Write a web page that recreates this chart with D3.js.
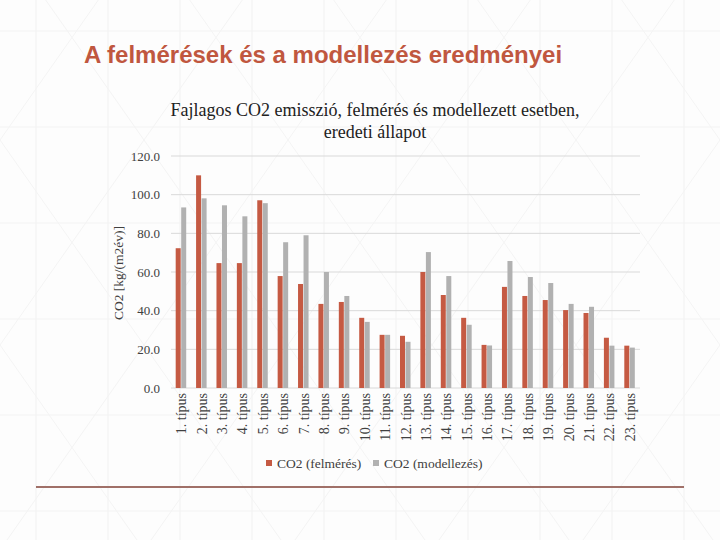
<!DOCTYPE html>
<html>
<head>
<meta charset="utf-8">
<script src="https://cdn.jsdelivr.net/npm/d3@7"></script>
<style>
  body { margin: 0; background: #fff; }
  svg { display: block; }
</style>
</head>
<body>
<script>
// chart data
var categories = ["1. típus","2. típus","3. típus","4. típus","5. típus","6. típus","7. típus","8. típus",
  "9. típus","10. típus","11. típus","12. típus","13. típus","14. típus","15. típus","16. típus",
  "17. típus","18. típus","19. típus","20. típus","21. típus","22. típus","23. típus"];
var felmeres = [72.3,110.0,64.6,64.6,97.1,57.9,53.8,43.5,44.5,36.3,27.5,27.0,60.0,48.1,36.3,22.3,52.3,47.6,45.5,40.3,38.8,26.0,21.9];
var modellezes = [93.4,98.1,94.5,88.8,95.6,75.4,79.0,60.0,47.6,34.2,27.5,23.9,70.3,57.9,32.7,22.0,65.7,57.4,54.3,43.5,42.0,21.9,20.9];
var seriesNames = ["CO2 (felmérés)", "CO2 (modellezés)"];
var yTicks = [0, 20, 40, 60, 80, 100, 120];

var W = 720, H = 540;
var red = "#c55a43", gray = "#b1b1b1";

var svg = d3.select("body").append("svg")
  .attr("width", W).attr("height", H);

// faint background pattern
var bg = svg.append("g");
bg.append("rect").attr("width", W).attr("height", H).attr("fill", "#fdfdfd");
for (var vx = 36; vx < W; vx += 72) {
  bg.append("line").attr("x1", vx).attr("x2", vx).attr("y1", 0).attr("y2", H)
    .attr("stroke", "#f1f1f1").attr("stroke-width", 1);
}
for (var hy = 31; hy < H; hy += 96) {
  bg.append("line").attr("x1", 0).attr("x2", W).attr("y1", hy).attr("y2", hy)
    .attr("stroke", "#f3f3f3").attr("stroke-width", 1);
}
for (var dx = -720; dx < W + 720; dx += 144) {
  bg.append("line").attr("x1", dx).attr("y1", -65).attr("x2", dx + 432).attr("y2", H + 10)
    .attr("stroke", "#f4f4f4");
  bg.append("line").attr("x1", dx).attr("y1", -65).attr("x2", dx - 432).attr("y2", H + 10)
    .attr("stroke", "#f4f4f4");
}

// slide title
svg.append("text")
  .attr("x", 84).attr("y", 63)
  .attr("font-family", "Liberation Sans, Arial, sans-serif")
  .attr("font-weight", "bold")
  .attr("font-size", 24)
  .attr("fill", "#c0573f")
  .text("A felmérések és a modellezés eredményei");

var serif = "Liberation Serif, Times New Roman, serif";

// chart title
var ct = svg.append("text")
  .attr("text-anchor", "middle")
  .attr("font-family", serif)
  .attr("font-size", 18)
  .attr("fill", "#222");
ct.append("tspan").attr("x", 375).attr("y", 116).text("Fajlagos CO2 emisszió, felmérés és modellezett esetben,");
ct.append("tspan").attr("x", 375).attr("y", 138).text("eredeti állapot");

var plotLeft = 171, plotRight = 640, plotTop = 156, plotBottom = 388;

var x0 = d3.scaleBand().domain(categories).range([plotLeft, plotRight]).paddingInner(0.46).paddingOuter(0.23);
var x1 = d3.scaleBand().domain([0, 1]).range([0, x0.bandwidth()]);
var y = d3.scaleLinear().domain([0, 120]).range([plotBottom, plotTop]);

// gridlines
svg.append("g").selectAll("line")
  .data(yTicks)
  .enter().append("line")
  .attr("x1", plotLeft).attr("x2", plotRight)
  .attr("y1", function(d){ return y(d); })
  .attr("y2", function(d){ return y(d); })
  .attr("stroke", "#d9d9d9").attr("stroke-width", 1);

// y axis
var yAxis = svg.append("g")
  .attr("transform", "translate(" + (plotLeft - 11) + ",0)")
  .call(d3.axisLeft(y).tickValues(yTicks).tickFormat(d3.format(".1f")).tickSize(0).tickPadding(0));
yAxis.select(".domain").remove();
yAxis.selectAll("text")
  .attr("font-family", serif).attr("font-size", 13).attr("fill", "#404040");

svg.append("text")
  .attr("transform", "translate(123,273) rotate(-90)")
  .attr("text-anchor", "middle")
  .attr("font-family", serif).attr("font-size", 13.5).attr("fill", "#404040")
  .text("CO2 [kg/(m2év)]");

// bars
var groups = svg.append("g").selectAll("g")
  .data(categories)
  .enter().append("g")
  .attr("transform", function(d){ return "translate(" + x0(d) + ",0)"; });

groups.append("rect")
  .attr("x", x1(0)).attr("width", x1.bandwidth() - 0.5)
  .attr("y", function(d, i){ return y(felmeres[i]); })
  .attr("height", function(d, i){ return plotBottom - y(felmeres[i]); })
  .attr("fill", red);

groups.append("rect")
  .attr("x", x1(1)).attr("width", x1.bandwidth() - 0.5)
  .attr("y", function(d, i){ return y(modellezes[i]); })
  .attr("height", function(d, i){ return plotBottom - y(modellezes[i]); })
  .attr("fill", gray);

// x labels
var xAxis = svg.append("g")
  .attr("transform", "translate(0," + plotBottom + ")")
  .call(d3.axisBottom(x0).tickSize(0).tickPadding(0));
xAxis.select(".domain").remove();
xAxis.selectAll("text")
  .attr("font-family", serif).attr("font-size", 14).attr("fill", "#404040")
  .attr("text-anchor", "end")
  .attr("dy", null)
  .attr("transform", "translate(5,5) rotate(-90)");

// legend
var legend = svg.append("g");
var legendX = [266, 373];
seriesNames.forEach(function(name, i){
  legend.append("rect")
    .attr("x", legendX[i]).attr("y", 460).attr("width", 6).attr("height", 6)
    .attr("fill", i === 0 ? red : gray);
  legend.append("text")
    .attr("x", legendX[i] + 11).attr("y", 468)
    .attr("font-family", serif).attr("font-size", 13.5).attr("fill", "#404040")
    .text(name);
});

// bottom rule
svg.append("line")
  .attr("x1", 36).attr("x2", 684).attr("y1", 487).attr("y2", 487)
  .attr("stroke", "#a07068").attr("stroke-width", 2);
</script>
</body>
</html>
